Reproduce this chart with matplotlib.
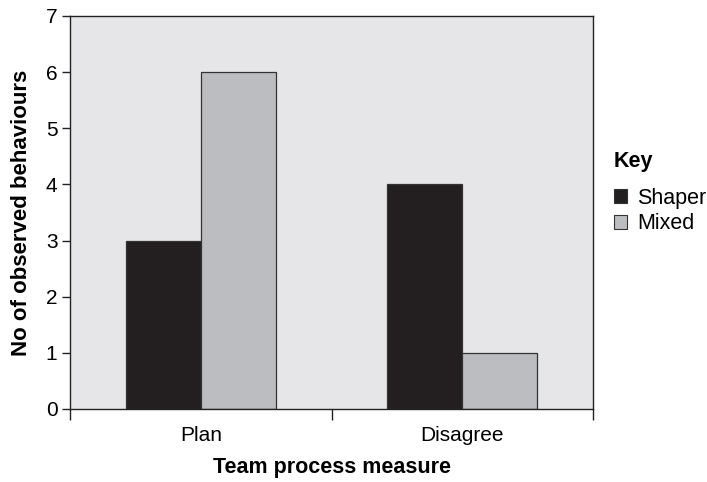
import numpy as np
import matplotlib.pyplot as plt
from matplotlib.patches import Patch

plt.rcParams['font.family'] = ['Liberation Sans', 'DejaVu Sans']

categories = ['Plan', 'Disagree']
series_names = ['Shaper', 'Mixed']
shaper = [3, 4]
mixed = [6, 1]
colors = ['#231f20', '#bcbdc0']

fig = plt.figure(figsize=(7.07, 4.82), dpi=100)
ax = fig.add_axes([0.099, 0.1515, 0.740, 0.8155])
ax.set_facecolor('#e6e6e8')

x = np.arange(len(categories))
w = 0.287
for vals, off, col, name in zip([shaper, mixed], [-w / 2, w / 2], colors, series_names):
    ax.bar(x + off, vals, width=w, color=col, edgecolor='#333333',
           linewidth=0.9, label=name, zorder=2)

ax.set_xlim(-0.5, 1.5)
ax.set_ylim(0, 7)
ax.set_yticks(range(0, 8))
ax.tick_params(axis='y', labelsize=15, length=6, width=1, pad=3, color='#222222')

# boundaries as major ticks, labels on minor ticks
ax.set_xticks([-0.5, 0.5, 1.5])
ax.set_xticklabels(['', '', ''])
ax.set_xticks(x, minor=True)
ax.set_xticklabels(categories, minor=True)
ax.tick_params(axis='x', which='major', length=8, width=1, color='#222222')
ax.tick_params(axis='x', which='minor', length=0, labelsize=15, pad=12)

for s in ax.spines.values():
    s.set_color('#222222')
    s.set_linewidth(1)

ax.set_ylabel('No of observed behaviours', fontsize=16, fontweight='bold', labelpad=10)
ax.set_xlabel('Team process measure', fontsize=15.5, fontweight='bold', labelpad=9)

handles = [Patch(facecolor=c, edgecolor='#333333', linewidth=0.8) for c in colors]
leg = ax.legend(handles, series_names, title='Key', loc='center left',
                bbox_to_anchor=(1.023, 0.55), frameon=False, fontsize=15.5,
                borderaxespad=0, handlelength=0.6, handleheight=0.6,
                handletextpad=0.5, labelspacing=0.22, alignment='left',
                title_fontproperties={'weight': 'bold', 'size': 15.5})
leg._legend_box.sep = 11

fig.savefig('out.png', dpi=100)
